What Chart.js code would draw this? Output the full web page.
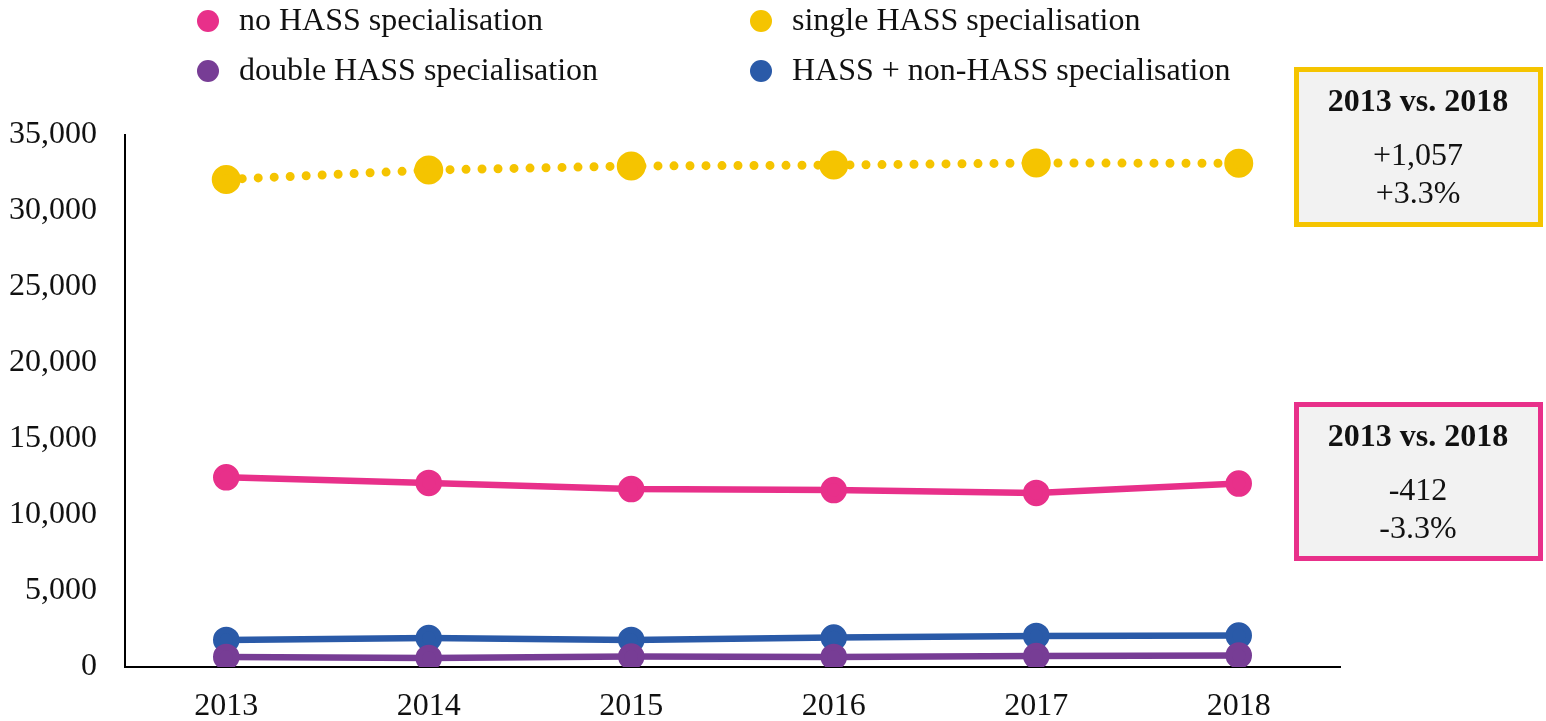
<!DOCTYPE html>
<html>
<head>
<meta charset="utf-8">
<script src="https://cdn.jsdelivr.net/npm/chart.js@4/dist/chart.umd.min.js"></script>
<style>
  html, body { margin: 0; padding: 0; background: #fff; }
  #wrap { width: 1546px; height: 721px; position: relative; }
</style>
</head>
<body>
<div id="wrap"><canvas id="myChart"></canvas></div>
<script>
// data
var years = ['2013', '2014', '2015', '2016', '2017', '2018'];
var noHass = [12480, 12110, 11710, 11640, 11450, 12068];
var singleHass = [32080, 32690, 32960, 33020, 33160, 33137];
var doubleHass = [660, 600, 690, 660, 720, 760];
var hassNonHass = [1780, 1900, 1780, 1940, 2040, 2070];
var yTicks = [0, 5000, 10000, 15000, 20000, 25000, 30000, 35000];

// comparison boxes (text as printed)
var boxTitle = '2013 vs. 2018';
var singleChange = ['+1,057', '+3.3%'];
var noChange = ['-412', '-3.3%'];

var PINK = '#E8308A', YELLOW = '#F5C400', PURPLE = '#773D95', BLUE = '#2A5AA8';
var FONT = '"Liberation Serif", "Times New Roman", serif';

// legend in two columns + the two boxes on the right
var extras = {
  id: 'extras',
  afterDraw: function(chart) {
    var c = chart.ctx;
    var colX = [208, 761], rowY = [21, 71];
    c.save();
    c.font = '32px ' + FONT;
    c.textBaseline = 'middle';
    c.textAlign = 'left';
    chart.data.datasets.forEach(function(ds, i) {
      var x = colX[i % 2], y = rowY[Math.floor(i / 2)];
      c.fillStyle = ds.borderColor;
      c.beginPath();
      c.arc(x, y, 11, 0, Math.PI * 2);
      c.fill();
      c.fillStyle = '#111';
      c.fillText(ds.label, x + 31, y + 1);
    });

    function box(top, h, color, lines) {
      c.fillStyle = '#F2F2F2';
      c.fillRect(1296, top, 244, h);
      c.strokeStyle = color;
      c.lineWidth = 5;
      c.strokeRect(1296.5, top + 0.5, 244, h);
      c.fillStyle = '#111';
      c.textAlign = 'center';
      c.font = 'bold 32px ' + FONT;
      c.fillText(boxTitle, 1418, top + 34);
      c.font = '32px ' + FONT;
      c.fillText(lines[0], 1418, top + 88);
      c.fillText(lines[1], 1418, top + 126);
    }
    box(69, 155, YELLOW, singleChange);
    box(404, 154, PINK, noChange);
    c.restore();
  }
};

var ctx = document.getElementById('myChart');
var chart = new Chart(ctx, {
  type: 'line',
  data: {
    labels: years,
    datasets: [
      { label: 'no HASS specialisation', data: noHass, borderColor: PINK, backgroundColor: PINK,
        borderWidth: 6.5, pointRadius: 10, order: 2 },
      { label: 'single HASS specialisation', data: singleHass, borderColor: YELLOW, backgroundColor: YELLOW,
        borderWidth: 9, borderDash: [0, 16], borderCapStyle: 'round', pointRadius: 10, order: 1 },
      { label: 'double HASS specialisation', data: doubleHass, borderColor: PURPLE, backgroundColor: PURPLE,
        borderWidth: 6.5, pointRadius: 10, order: 3 },
      { label: 'HASS + non-HASS specialisation', data: hassNonHass, borderColor: BLUE, backgroundColor: BLUE,
        borderWidth: 6.5, pointRadius: 10, order: 4 }
    ]
  },
  options: {
    responsive: true,
    maintainAspectRatio: false,
    animation: false,
    layout: { padding: { top: 135, right: 206, left: 0, bottom: 0 } },
    plugins: { legend: { display: false }, tooltip: { enabled: false } },
    elements: { point: { borderWidth: 0, hoverRadius: 10 }, line: { tension: 0 } },
    scales: {
      x: {
        offset: true,
        grid: { display: false },
        border: { display: true, color: '#000', width: 2 },
        ticks: { color: '#111', font: { family: FONT, size: 32 }, padding: 12 },
        afterFit: function(s) { s.height = 54; }
      },
      y: {
        min: 0,
        max: 35000,
        grid: { display: false },
        border: { display: true, color: '#000', width: 2 },
        afterBuildTicks: function(s) { s.ticks = yTicks.map(function(v) { return { value: v }; }); },
        ticks: {
          color: '#111',
          font: { family: FONT, size: 32 },
          padding: 20,
          callback: function(v) { return Number(v).toLocaleString('en-US'); }
        },
        afterFit: function(s) { s.width = 125; }
      }
    }
  },
  plugins: [extras]
});
</script>
</body>
</html>
